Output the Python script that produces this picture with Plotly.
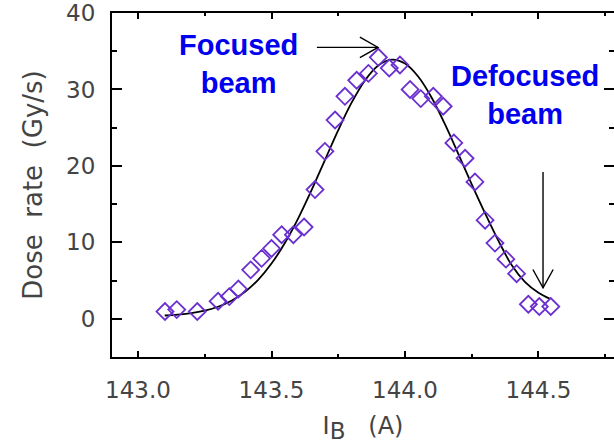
import plotly.graph_objects as go

# Measured dose rate vs bending-magnet current
current_A = [143.101, 143.145, 143.222, 143.300, 143.342, 143.376, 143.422, 143.463,
             143.500, 143.538, 143.582, 143.622, 143.663, 143.700, 143.738, 143.775,
             143.819, 143.863, 143.900, 143.941, 143.981, 144.019, 144.059, 144.106,
             144.143, 144.183, 144.225, 144.262, 144.300, 144.337, 144.378, 144.418,
             144.462, 144.503, 144.546]
dose_rate = [0.95, 1.2, 0.95, 2.3, 2.9, 3.9, 6.4, 7.9,
             9.2, 11.0, 11.0, 12.0, 16.9, 21.9, 26.0, 29.1,
             31.2, 32.1, 34.2, 32.8, 33.2, 30.0, 28.8, 29.1,
             27.8, 23.0, 21.0, 17.9, 12.9, 9.9, 7.8, 5.9,
             1.9, 1.6, 1.6]

# Fitted curve
fit_current = [143.10, 143.15, 143.20, 143.25, 143.30, 143.35, 143.40, 143.45,
               143.50, 143.55, 143.60, 143.65, 143.70, 143.75, 143.80, 143.85,
               143.90, 143.95, 144.00, 144.05, 144.10, 144.15, 144.20, 144.25,
               144.30, 144.35, 144.40, 144.45, 144.50, 144.543]
fit_dose = [0.43, 0.54, 0.73, 1.06, 1.57, 2.36, 3.5, 5.09,
            7.22, 9.91, 13.14, 16.82, 20.76, 24.68, 28.27, 31.18,
            33.13, 33.9, 33.39, 31.66, 28.92, 25.43, 21.55, 17.59,
            13.8, 10.2, 7.0, 4.8, 3.4, 2.6]

x_ticks = [143.0, 143.5, 144.0, 144.5]
y_ticks = [0, 10, 20, 30, 40]

tick_font = dict(family="DejaVu Sans", size=23, color="#444")
title_font = dict(family="DejaVu Sans", size=24, color="#444")

fig = go.Figure()
fig.add_trace(go.Scatter(x=fit_current, y=fit_dose, mode="lines",
                         line=dict(color="black", width=1.8, shape="spline"),
                         showlegend=False, hoverinfo="skip"))
fig.add_trace(go.Scatter(x=current_A, y=dose_rate, mode="markers",
                         marker=dict(symbol="diamond-open", size=13, color="#6a2fd0",
                                     line=dict(width=1.8, color="#6a2fd0")),
                         showlegend=False))

fig.update_layout(
    width=614, height=448,
    margin=dict(l=112, r=0, t=13, b=91),
    plot_bgcolor="white", paper_bgcolor="white",
    xaxis=dict(range=[142.9026, 144.7828], tickvals=x_ticks, tickformat=".1f",
               ticks="inside", ticklen=6, tickwidth=1.5, tickcolor="black",
               showline=True, linecolor="black", linewidth=2, mirror="ticks",
               showgrid=False, zeroline=False, tickfont=tick_font,
               ticklabelstandoff=11, automargin=False,
               minor=dict(dtick=0.25, ticks="inside", ticklen=3, tickwidth=1.5,
                          tickcolor="black", showgrid=False),
               title=dict(text="I<sub><span style='font-size:23px'>B</span></sub>   (A)",
                          font=title_font, standoff=16)),
    yaxis=dict(range=[-5, 40], tickvals=y_ticks,
               ticks="inside", ticklen=10, tickwidth=1.5, tickcolor="black",
               showline=True, linecolor="black", linewidth=2, mirror="ticks",
               showgrid=False, zeroline=False, tickfont=tick_font,
               ticklabelstandoff=10, automargin=False,
               minor=dict(dtick=5, ticks="inside", ticklen=5, tickwidth=1.5,
                          tickcolor="black", showgrid=False),
               title=dict(text="Dose\u00a0 rate\u00a0 (Gy/s)",
                          font=dict(family="DejaVu Sans", size=26, color="#444"),
                          standoff=16)),
)

label_font = dict(family="Liberation Sans", size=29, color="#0000ee")
fig.add_annotation(x=143.375, y=33.3, xref="x", yref="y", text="<b>Focused<br>beam</b>",
                   showarrow=False, font=label_font)
fig.add_annotation(x=144.449, y=29.3, xref="x", yref="y", text="<b>Defocused<br>beam</b>",
                   showarrow=False, font=label_font)

# Arrows drawn as shapes (shaft + open chevron head)
arrow_line = dict(color="black", width=1.4)
# Horizontal arrow pointing at the focused peak
h_tail = (143.67, 35.5)
h_tip = (143.899, 35.5)
h_len, h_half = 0.068, 1.35   # head length (x units), half-width (y units)
fig.add_shape(type="line", xref="x", yref="y", x0=h_tail[0], y0=h_tail[1],
              x1=h_tip[0], y1=h_tip[1], line=arrow_line)
fig.add_shape(type="path", xref="x", yref="y", line=arrow_line,
              path=f"M {h_tip[0]-h_len},{h_tip[1]+h_half} L {h_tip[0]},{h_tip[1]} "
                   f"L {h_tip[0]-h_len},{h_tip[1]-h_half}")
# Vertical arrow pointing at the defocused end
v_tail = (144.517, 19.2)
v_tip = (144.517, 4.05)
v_len, v_half = 2.4, 0.038    # head length (y units), half-width (x units)
fig.add_shape(type="line", xref="x", yref="y", x0=v_tail[0], y0=v_tail[1],
              x1=v_tip[0], y1=v_tip[1], line=arrow_line)
fig.add_shape(type="path", xref="x", yref="y", line=arrow_line,
              path=f"M {v_tip[0]-v_half},{v_tip[1]+v_len} L {v_tip[0]},{v_tip[1]} "
                   f"L {v_tip[0]+v_half},{v_tip[1]+v_len}")

fig.write_html("out.html", config={"displayModeBar": False},
               post_script="document.body.style.margin='0';")
